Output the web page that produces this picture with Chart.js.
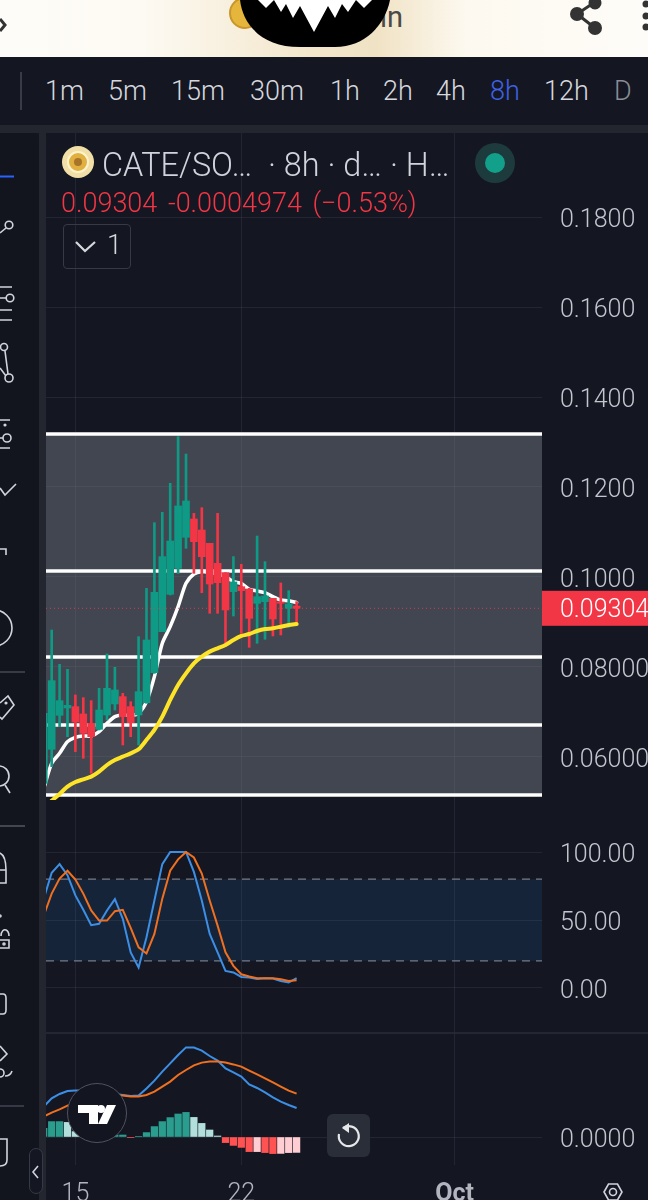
<!DOCTYPE html>
<html>
<head>
<meta charset="utf-8">
<script src="https://cdn.jsdelivr.net/npm/chart.js@4/dist/chart.umd.min.js"></script>
<style>
html,body{margin:0;padding:0;background:#141722;}
#wrap{position:relative;width:648px;height:1200px;overflow:hidden;font-family:Roboto,sans-serif;background:#141722;}
canvas{position:absolute;left:0;top:0;}
.abs{position:absolute;white-space:nowrap;}
#topbar{left:0;top:0;width:648px;height:57px;background:linear-gradient(90deg,#fefcf8 0%,#fdfaf3 22%,#f3e6cb 48%,#f0e2c4 58%,#fdf9f0 72%,#fefcf8 100%);}
#tfrow{left:0;top:57px;width:648px;height:68px;background:#141722;}
#strip{left:0;top:125px;width:648px;height:8px;background:#23262f;}
#gap{left:39px;top:133px;width:7px;height:1067px;background:#23262f;}
#side{left:0;top:133px;width:39px;height:1067px;background:#12151e;border-radius:0 6px 0 0;}
.tf{font-size:27px;line-height:32px;top:75px;color:#d6d8de;font-weight:300;}
#title{left:102px;top:147px;font-size:32.4px;line-height:36px;color:#d1d4dc;font-weight:300;}
#vals{left:61px;top:188px;font-size:27px;line-height:30px;color:#f23645;font-weight:300;word-spacing:4px;}
#btn{left:63px;top:224px;width:68px;height:45px;border:1px solid #363a45;border-radius:4px;box-sizing:border-box;}
#btnnum{left:107px;top:230px;font-size:27px;line-height:30px;color:#d6d8de;font-weight:300;}
#reset{left:327px;top:1114px;width:43px;height:43px;border-radius:6px;background:#2a2e39;}
#pill{left:29px;top:1148px;width:14px;height:46px;border:1px solid #363a45;border-radius:8px;box-sizing:border-box;background:#141722;}
#tv{left:67px;top:1083px;width:60px;height:60px;border-radius:50%;background:#131620;border:1.5px solid #50535e;box-sizing:border-box;}
#inText{left:380px;top:2px;font-size:29px;line-height:30px;color:#4a4a4a;font-weight:400;}
svg{position:absolute;left:0;top:0;}
</style>
</head>
<body>
<div id="wrap">
<canvas id="c" width="648" height="1200"></canvas>
<div class="abs" id="topbar"></div>
<div class="abs" id="tfrow"></div>
<div class="abs" id="strip"></div>
<div class="abs" id="side"></div>
<div class="abs" id="gap"></div>
<div class="abs" id="inText">in</div>
<div class="abs tf" style="left:45px">1m</div>
<div class="abs tf" style="left:108px">5m</div>
<div class="abs tf" style="left:171px">15m</div>
<div class="abs tf" style="left:250px">30m</div>
<div class="abs tf" style="left:330px">1h</div>
<div class="abs tf" style="left:383px">2h</div>
<div class="abs tf" style="left:436px">4h</div>
<div class="abs tf" style="left:490px;color:#3f62e6">8h</div>
<div class="abs tf" style="left:544px">12h</div>
<div class="abs tf" style="left:614px;color:#8a8d96">D</div>
<div class="abs" id="title">CATE/SO…&nbsp; · 8h · d… · H…</div>
<div class="abs" id="vals">0.09304 -0.0004974 (−0.53%)</div>
<div class="abs" id="btn"></div>
<div class="abs" id="btnnum">1</div>
<div class="abs" id="reset"></div>
<div class="abs" id="pill"></div>
<div class="abs" id="tv"></div>
<svg width="648" height="1200" viewBox="0 0 648 1200" fill="none" stroke="#d1d4dc" stroke-width="1.6">
  <circle cx="245" cy="13" r="15" fill="#e5b53c" stroke="#c9962a" stroke-width="2"/>
  <path d="M240 0C243 25 262 47 300 47L335 47C365 47 385 25 390 0Z" fill="#000" stroke="none"/>
  <path d="M258 0L266 8L274 0L281 12L286 4L293 18L300 6L314 32L328 6L335 18L342 4L348 12L356 0L364 8L372 0Z" fill="#fff" stroke="none"/>
  <g fill="#333" stroke="#333" stroke-width="3"><path d="M595 2L577 14L595 28" fill="none"/><circle cx="595" cy="3" r="5"/><circle cx="577" cy="14" r="5.5"/><circle cx="595" cy="28" r="5.5"/></g>
  <g fill="#333" stroke="none"><circle cx="646" cy="4" r="3.5"/><circle cx="646" cy="16" r="3.5"/><circle cx="646" cy="27" r="3.5"/></g>
  <path d="M0 19L5 25L0 31" stroke="#333" stroke-width="3"/>
  <path d="M21 72V110" stroke="#434651"/>
  <circle cx="78" cy="162" r="16" fill="#f2dfa8" stroke="none"/><circle cx="78" cy="162" r="10" fill="#e0b040" stroke="#fff2cc" stroke-width="2"/><circle cx="78" cy="162" r="4" fill="#a8742a" stroke="none"/>
  <circle cx="495" cy="163" r="20" fill="#1d3b3d" stroke="none"/><circle cx="495" cy="163" r="10" fill="#13a08a" stroke="none"/>
  <path d="M76 242L85 251L95 242" stroke="#d6d8de" stroke-width="2.2"/>
  <path d="M0 176.5H14" stroke="#2962ff" stroke-width="2"/>
  <circle cx="9" cy="225" r="3.8"/><path d="M6 228L0 233"/>
  <path d="M0 287H12M0 298H6M0 310H12M0 320H12"/><circle cx="10" cy="298" r="3.8"/>
  <circle cx="4" cy="347" r="3.5"/><circle cx="9" cy="378" r="4"/><path d="M5 351L8 374M6 376L0 368"/>
  <path d="M0 420H10M0 448H10M0 438H3"/><circle cx="7" cy="438" r="4"/><circle cx="5" cy="425" r=".8"/>
  <path d="M0 488L5 495L16 484"/>
  <path d="M0 549H6V555"/>
  <circle cx="-6" cy="628" r="18"/>
  <path d="M0 672H25" stroke="#434651"/>
  <path d="M0 703L8 696L14 705L2 719L0 717"/><circle cx="6" cy="703" r=".8"/>
  <circle cx="-1" cy="776" r="10"/><path d="M5 785L10 793"/>
  <path d="M0 826H25" stroke="#434651" stroke-width="2"/>
  <path d="M0 853C4 855 6 862 6 870V883H0M0 870H6"/>
  <circle cx="0" cy="916" r="1"/><path d="M1 936C1 931 4 929 6 930C8 931 9 933 9 936M0 940H9V948H0"/><circle cx="4" cy="944" r="1"/>
  <path d="M0 994H3C5 994 6 996 6 998V1010C6 1012 5 1014 3 1014H0"/>
  <path d="M0 1046L7 1054L0 1061"/><circle cx="0" cy="1073" r="4"/><path d="M5 1076C8 1076 11 1074 12 1071"/>
  <path d="M0 1106H24" stroke="#434651" stroke-width="1.5"/>
  <path d="M0 1139H7V1160C7 1165 4 1166 0 1166"/>
  <path d="M38 1166L33 1172L38 1178" stroke-width="1.6"/>
  <g fill="#fff" stroke="none"><path d="M78 1105H98V1124H89V1113H78Z"/><circle cx="101" cy="1109" r="4"/><path d="M107 1105H116L107 1124H98Z"/></g>
  <path d="M343 1128A10 10 0 1 1 339 1134" stroke="#e6e7ea" stroke-width="2.2"/><path d="M349 1123L342 1128L349 1133Z" fill="#e6e7ea" stroke="none"/>
  <path d="M604 1192L608.5 1184H617.5L622 1192L617.5 1200H608.5Z"/><circle cx="613" cy="1192" r="3.5"/>
</svg>
</div>
<script>
const candleIndex = [0,1,2,3,4,5,6,7,8,9,10,11,12,13,14,15,16,17,18,19,20,21,22,23,24,25,26,27,28,29,30,31,32];
const opens  = [.05415,.06170,.06926,.07089,.07119,.06956,.06748,.06615,.06933,.07178,.07341,.07119,.06933,.07207,.07874,.08785,.09615,.10193,.10881,.11289,.11044,.10748,.10304,.10096,.09674,.09785,.09733,.09415,.09452,.09526,.09445,.09304,.09354];
const highs  = [.06970,.08822,.08059,.07948,.07378,.07319,.07252,.07526,.08289,.07993,.07415,.07230,.08674,.09748,.11207,.11437,.12081,.13119,.12733,.11415,.11541,.10748,.11415,.10096,.10452,.10281,.09748,.10911,.10341,.09526,.09867,.09696,.09452];
const lows   = [.05415,.05785,.06674,.06452,.06119,.05970,.05637,.06600,.06822,.07044,.06267,.06452,.06267,.07193,.07859,.08785,.09600,.10081,.10637,.10081,.09652,.09193,.09193,.08452,.09133,.08748,.08437,.08526,.08615,.08689,.08711,.08881,.08985];
const closes = [.06970,.07696,.07252,.07148,.06778,.06526,.06452,.07044,.07526,.07489,.06896,.06763,.07452,.08600,.09659,.10452,.10800,.11578,.11689,.10785,.10452,.09844,.09874,.09267,.09889,.09696,.09081,.09563,.09578,.09067,.09415,.09400,.09304];
const maWhite  = [.05304,.05860,.06081,.06341,.06437,.06467,.06467,.06563,.06748,.06896,.06933,.06926,.06970,.07230,.07785,.08526,.08896,.09341,.09859,.10067,.10119,.10096,.10067,.10007,.09896,.09859,.09726,.09689,.09652,.09563,.09489,.09474,.09430];
const maYellow = [null,.05030,.05178,.05341,.05444,.05504,.05563,.05674,.05822,.05933,.06007,.06081,.06170,.06378,.06600,.06896,.07267,.07600,.07859,.08081,.08230,.08341,.08415,.08489,.08600,.08689,.08733,.08800,.08844,.08859,.08896,.08933,.08956];
const priceLevels = [.13178,.10133,.08222,.06711,.05156];
const stochK = [65.7,84.7,91.1,83.0,68.1,57.5,46.2,47.2,57.0,65.4,50.9,26.2,15.1,37.3,64.4,91.1,100,100,100,85.4,64.4,39.8,26.2,12.6,11.4,8.1,7.7,6.7,7.2,6.9,5.2,4.0,7.2];
const stochD = [53.3,69.4,80.5,86.2,79.8,69.4,57.0,49.6,49.6,56.5,57.5,44.2,29.9,25.4,39.8,65.7,86.2,94.6,100,96.0,84.2,64.4,45.9,26.2,16.3,10.1,8.4,7.2,7.2,7.2,6.4,5.2,5.7];
const stochBands = [80,20];
const macdLine = [.00152,.00193,.00215,.00230,.00232,.00232,.00227,.00222,.00218,.00215,.00210,.00205,.00207,.00243,.00282,.00327,.00368,.00410,.00448,.00447,.00432,.00405,.00382,.00343,.00323,.00302,.00263,.00245,.00223,.00198,.00177,.00160,.00145];
const signalLine = [.00102,.00122,.00138,.00157,.00172,.00182,.00193,.00202,.00205,.00208,.00207,.00203,.00203,.00210,.00227,.00252,.00277,.00310,.00335,.00358,.00372,.00378,.00378,.00372,.00363,.00352,.00332,.00313,.00293,.00273,.00252,.00232,.00217];
const macdHist = [.00043,.00077,.00077,.00073,.00027,.00018,.00012,.00008,.00007,.00010,.00010,-.00003,.00002,.00022,.00052,.00077,.00097,.00115,.00123,.00098,.00068,.00035,.00005,-.00028,-.00042,-.00052,-.00073,-.00073,-.00078,-.00083,-.00082,-.00078,-.00077];
const xTickPos = [4,25,52];
const xTickLabels = ['15','22','Oct'];
const priceTicks = [.18,.16,.14,.12,.10,.08,.06];
const priceTickLabels = ['0.1800','0.1600','0.1400','0.1200','0.1000','0.08000','0.06000'];
const stochTicks = [100,50,0];
const stochTickLabels = ['100.00','50.00','0.00'];
const macdTicks = [0];
const macdTickLabels = ['0.0000'];
const lastPriceLabel = '0.09304';

const GREEN='#0f9a85', RED='#f23645';
const xMin=0.28, xMax=63.06;
const rangeLine = v => [{x:xMin,y:v},{x:xMax,y:v}];
const series = arr => arr.map((v,i)=>({x:candleIndex[i],y:v}));
const up = candleIndex.map(i=>closes[i]>=opens[i]);
const candleColors = up.map(u=>u?GREEN:RED);
const histColors = macdHist.map((v,i)=>{
  const p = i? macdHist[i-1] : v-1;
  if(v>=0) return v>=p ? '#2a9d8f' : '#b2dfdb';
  return v<p ? '#ff5252' : '#ffcdd2';
});

const datasets=[];
datasets.push({type:'line',yAxisID:'y',data:rangeLine(priceLevels[0]),borderColor:'#fff',borderWidth:3.5,pointRadius:0,order:20,
  fill:{target:{value:priceLevels[4]}},backgroundColor:'rgba(120,123,134,0.47)'});
priceLevels.slice(1).forEach(v=>datasets.push({type:'line',yAxisID:'y',data:rangeLine(v),borderColor:'#fff',borderWidth:3.5,pointRadius:0,order:19,fill:false}));
datasets.push({type:'line',yAxisID:'y',data:series(maWhite),borderColor:'#fff',borderWidth:3.5,pointRadius:0,order:10,tension:.25,fill:false,borderCapStyle:'round'});
datasets.push({type:'bar',yAxisID:'y',data:candleIndex.map(i=>({x:i,y:[lows[i],highs[i]]})),backgroundColor:candleColors,barThickness:2,order:8,grouped:false});
datasets.push({type:'bar',yAxisID:'y',data:candleIndex.map(i=>({x:i,y:[opens[i],closes[i]]})),backgroundColor:candleColors,barThickness:7,order:7,grouped:false});
datasets.push({type:'line',yAxisID:'y',data:rangeLine(closes[closes.length-1]),borderColor:'rgba(242,54,69,.85)',borderWidth:1,borderDash:[1,3],pointRadius:0,order:6,fill:false});
datasets.push({type:'line',yAxisID:'y',data:series(maYellow),borderColor:'#fde428',borderWidth:4,pointRadius:0,order:5,tension:.25,fill:false,borderCapStyle:'round'});
datasets.push({type:'line',yAxisID:'y2',data:rangeLine(stochBands[0]),borderColor:'#787b86',borderWidth:1.3,borderDash:[8,6],pointRadius:0,order:20,
  fill:{target:{value:stochBands[1]}},backgroundColor:'rgba(33,150,243,0.11)'});
datasets.push({type:'line',yAxisID:'y2',data:rangeLine(stochBands[1]),borderColor:'#787b86',borderWidth:1.3,borderDash:[8,6],pointRadius:0,order:20,fill:false});
datasets.push({type:'line',yAxisID:'y2',data:series(stochK),borderColor:'#3d8fe6',borderWidth:2,pointRadius:0,order:4,fill:false});
datasets.push({type:'line',yAxisID:'y2',data:series(stochD),borderColor:'#f0701f',borderWidth:2,pointRadius:0,order:3,fill:false});
datasets.push({type:'bar',yAxisID:'y3',data:candleIndex.map(i=>({x:i,y:macdHist[i]})),backgroundColor:histColors,barThickness:6.6,order:9,grouped:false});
datasets.push({type:'line',yAxisID:'y3',data:series(macdLine),borderColor:'#3d8fe6',borderWidth:2,pointRadius:0,order:4,fill:false});
datasets.push({type:'line',yAxisID:'y3',data:series(signalLine),borderColor:'#f0701f',borderWidth:2,pointRadius:0,order:3,fill:false});

const gridColor='rgba(130,135,150,0.14)';
function yAxis(weight,min,max,ticks,labels){
  return {type:'linear',position:'right',stack:'panes',stackWeight:weight,min,max,
    border:{display:false},
    grid:{color:gridColor,drawTicks:false,lineWidth:1},
    afterBuildTicks:s=>{s.ticks=ticks.map(v=>({value:v}));},
    afterFit:s=>{s.width=106;},
    ticks:{autoSkip:false,padding:18,crossAlign:'near',color:'#c3c6cd',font:{family:'Roboto',size:25,weight:'300',lineHeight:0.32},
      callback:v=>['',labels[ticks.indexOf(v)]]}};
}
const panePlugin={id:'paneChrome',
  afterDatasetsDraw(chart){
    const ctx=chart.ctx, a=chart.chartArea, y=chart.scales.y, y3=chart.scales.y3;
    ctx.save();
    ctx.strokeStyle='#2a2e39';ctx.lineWidth=1.5;
    ctx.beginPath();ctx.moveTo(a.left,y3.top);ctx.lineTo(chart.width,y3.top);ctx.stroke();
    const py=y.getPixelForValue(closes[closes.length-1]);
    ctx.fillStyle='#f23645';ctx.fillRect(a.right,py-17.5,chart.width-a.right,35);
    ctx.fillStyle='#fff';ctx.font='300 25px Roboto';ctx.textAlign='left';ctx.textBaseline='middle';
    ctx.fillText(lastPriceLabel,a.right+18,py+2);
    ctx.restore();
  }};
new Chart(document.getElementById('c'),{
  data:{datasets},
  plugins:[panePlugin],
  options:{responsive:false,animation:false,events:[],
    layout:{padding:{left:46,top:133,right:0,bottom:0}},
    plugins:{legend:{display:false},tooltip:{enabled:false}},
    scales:{
      x:{type:'linear',position:'bottom',min:xMin,max:xMax,offset:false,
        border:{display:false},
        grid:{color:gridColor,drawTicks:false,offset:false},
        afterBuildTicks:s=>{s.ticks=xTickPos.map(v=>({value:v}));},
        afterFit:s=>{s.height=35;},
        ticks:{autoSkip:false,maxRotation:0,padding:15,color:'#b2b5be',
          font:c=>({family:'Roboto',size:25,weight:(c.tick&&c.tick.value===52)?'700':'300'}),
          callback:v=>xTickLabels[xTickPos.indexOf(v)]}},
      y:yAxis(667,.05044,.19867,priceTicks,priceTickLabels),
      y2:yAxis(233,-33.09,138.24,stochTicks,stochTickLabels),
      y3:yAxis(132,-.0014,.0052,macdTicks,macdTickLabels)
    }
  }
});
</script>
</body>
</html>
